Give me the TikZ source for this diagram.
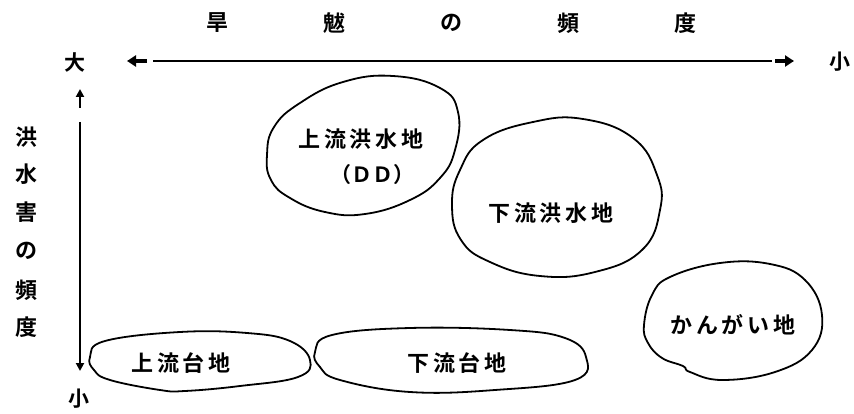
\documentclass[tikz,border=0pt]{standalone}
\usepackage{fontspec}
\setmainfont{Noto Sans CJK JP}[BoldFont={* Bold}]
\newfontfamily\lblfont[LetterSpace=17,BoldFont={* Bold}]{Noto Sans CJK JP}
\usetikzlibrary{arrows.meta}
\begin{document}
\begin{tikzpicture}[x=1pt,y=-1pt,
  blob/.style={draw=black, line width=1.8pt, line join=round},
  axisline/.style={line width=2.2pt},
  fattip/.style={line width=4.2pt, -{Triangle[length=9pt,width=11pt]}},
  thintip/.style={line width=2.8pt, -{Triangle[length=8pt,width=8pt]}},
  axislbl/.style={inner sep=0pt, font=\bfseries\fontsize{22}{22}\selectfont},
  bloblbl/.style={inner sep=0pt, font=\lblfont\bfseries\fontsize{22}{22}\selectfont},
  plainlbl/.style={inner sep=0pt, font=\bfseries\fontsize{21}{21}\selectfont}]
\useasboundingbox[fill=white] (0,0) rectangle (854,414);

% title
\node[axislbl] (t1) at (217,23) {旱};
\node[axislbl] (t2) at (334,23) {魃};
\node[axislbl] (t3) at (451,23) {の};
\node[axislbl] (t4) at (568,23) {頻};
\node[axislbl] (t5) at (685,23) {度};

% vertical title
\node[axislbl] (v1) at (26,137) {洪};
\node[axislbl] (v2) at (26,174) {水};
\node[axislbl] (v3) at (26,212) {害};
\node[axislbl] (v4) at (26,251) {の};
\node[axislbl] (v5) at (26,290) {頻};
\node[axislbl] (v6) at (26,327) {度};

% ends
\node[plainlbl] (big) at (75,62) {大};
\node[plainlbl] (smallr) at (840,62) {小};
\node[plainlbl] (smallb) at (79,399) {小};

% horizontal axis
\coordinate (hl) at (153,61);
\coordinate (hr) at (772,61);
\coordinate (hlb) at (147,61);
\coordinate (hlt) at (127,61);
\coordinate (hrb) at (775,61);
\coordinate (hrt) at (794,61);
\draw[axisline] (hl) -- (hr);
\draw[fattip] (hlb) -- (hlt);
\draw[fattip] (hrb) -- (hrt);

% vertical axis
\coordinate (vub) at (80,108);
\coordinate (vut) at (80,89);
\coordinate (vt) at (80,122);
\coordinate (vb) at (80,371);
\draw[thintip] (vub) -- (vut);
\draw[thintip] (vt) -- (vb);

% blobs
\draw[blob] plot[smooth cycle, tension=0.75] coordinates {
  (267,155) (274,127) (300,103) (343,82) (393,76) (440,88) (458,112)
  (455,150) (440,178) (410,200) (365,214) (325,212) (290,198) (271,180)};
\draw[blob] plot[smooth cycle, tension=0.75] coordinates {
  (452,205) (460,170) (483,140) (533,122) (583,119) (633,138) (657,175)
  (660,210) (642,250) (595,272) (540,276) (490,262) (461,240)};
\draw[blob] plot[smooth cycle, tension=0.7] coordinates {
  (644,325) (652,295) (670,277) (720,263) (770,264) (805,280) (822,315)
  (812,350) (775,372) (722,380) (690,372) (683,366) (662,358) (648,343)};
\draw[blob] plot[smooth cycle, tension=0.7] coordinates {
  (90,357) (105,341) (180,332) (247,333) (290,341) (310,360) (298,377)
  (240,386) (185,391) (160,390) (110,380) (94,370)};
\draw[blob] plot[smooth cycle, tension=0.7] coordinates {
  (315,352) (332,335) (410,328) (510,330) (565,338) (586,357) (575,380)
  (495,390) (410,392) (340,380) (320,367)};

% labels
\node[bloblbl] (a) at (361,139) {上流洪水地};
\node[plainlbl] (a2) at (372,175) {（ＤＤ）};
\node[bloblbl] (b) at (551,213) {下流洪水地};
\node[bloblbl] (c) at (733,325) {かんがい地};
\node[bloblbl] (d) at (181,363) {上流台地};
\node[bloblbl] (e) at (457,363) {下流台地};
\end{tikzpicture}
\end{document}
